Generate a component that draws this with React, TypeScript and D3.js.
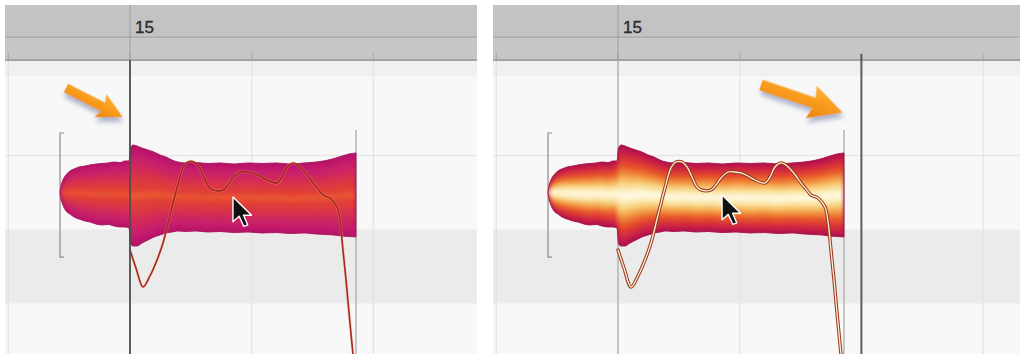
import React from 'react';
import * as d3 from 'd3';

const W = 1020;
const H = 354;

// ---- data (time in beats relative to bar 15, pitch in MIDI semitones) ----
const barLabel = '15';
const gridBeats = [-1, 0, 1, 2, 3];
const notePitch = 64;

const envTime = [
  -0.575, -0.567, -0.551, -0.526, -0.493, -0.46, -0.419, -0.37, -0.329, -0.279, -0.23, -0.181, -0.131, -0.082,
  -0.041, -0.008, 0.004, 0.025, 0.058, 0.099, 0.148, 0.197, 0.247, 0.296, 0.345, 0.394, 0.46, 0.542, 0.641,
  0.74, 0.855, 0.97, 1.085, 1.2, 1.315, 1.43, 1.528, 1.611, 1.676, 1.742, 1.799, 1.857,
];
const envTop = [
  64.007, 64.088, 64.169, 64.236, 64.291, 64.318, 64.345, 64.358, 64.372, 64.385, 64.392, 64.399, 64.412, 64.405,
  64.426, 64.426, 64.601, 64.642, 64.628, 64.601, 64.574, 64.547, 64.507, 64.48, 64.439, 64.412, 64.399, 64.405,
  64.392, 64.399, 64.385, 64.399, 64.392, 64.399, 64.385, 64.399, 64.412, 64.432, 64.459, 64.493, 64.52, 64.534,
];
const envBottom = [
  63.993, 63.912, 63.831, 63.75, 63.709, 63.669, 63.642, 63.615, 63.601, 63.574, 63.561, 63.568, 63.547, 63.534,
  63.534, 63.52, 63.304, 63.277, 63.277, 63.318, 63.358, 63.399, 63.426, 63.453, 63.466, 63.48, 63.473, 63.48,
  63.466, 63.473, 63.459, 63.466, 63.453, 63.459, 63.446, 63.453, 63.439, 63.432, 63.426, 63.412, 63.405, 63.399,
];

const pitchTime = [
  0.0, 0.049, 0.107, 0.164, 0.222, 0.271, 0.329, 0.386, 0.435, 0.476, 0.526, 0.567, 0.608, 0.649, 0.682, 0.764,
  0.805, 0.846, 0.904, 0.961, 1.011, 1.068, 1.126, 1.208, 1.249, 1.29, 1.339, 1.38, 1.422, 1.463, 1.504, 1.545,
  1.586, 1.643, 1.701, 1.726, 1.75, 1.775, 1.799, 1.832,
];
const pitchValue = [
  63.223, 62.98, 62.723, 62.872, 63.088, 63.318, 63.696, 64.061, 64.331, 64.412, 64.412, 64.345, 64.209, 64.074,
  64.034, 64.034, 64.101, 64.196, 64.277, 64.277, 64.264, 64.223, 64.169, 64.128, 64.209, 64.345, 64.399, 64.372,
  64.304, 64.223, 64.128, 64.047, 63.966, 63.926, 63.804, 63.601, 63.223, 62.818, 62.385, 61.818,
];

const bracketPitch = [63.128, 64.804];
const endLineTop = 64.845;

// annotations (beats, pitch)
const cursorPos = { before: [0.846, 63.94], after: [0.855, 63.966] };
const arrowPos = {
  before: { from: [-0.526, 65.412], to: [-0.06, 65.02] },
  after: { from: [1.175, 65.453], to: [1.845, 65.08] },
};

const beforeLayers: [number, string][] = [
  [1.0, '#ad1460'],
  [0.95, '#c21870'],
  [0.8, '#c92068'],
  [0.62, '#d22b58'],
  [0.45, '#da3547'],
  [0.28, '#e03c38'],
  [0.12, '#e44530'],
  [0.04, '#ec5e34'],
];
const afterLayers: [number, string][] = [
  [1.0, '#a8124a'],
  [0.94, '#c81c48'],
  [0.82, '#d83038'],
  [0.68, '#e6502c'],
  [0.54, '#ee7c34'],
  [0.42, '#f4aa50'],
  [0.3, '#f8d482'],
  [0.18, '#fcecb8'],
  [0.06, '#fffae6'],
];

const panels = [
  { id: 'before', left: 5, right: 477, origin: 130, playhead: 0 },
  { id: 'after', left: 493, right: 1020, origin: 618, playhead: 2 },
];

const BEAT_PX = 121.7;
const blackKeys = [1, 3, 6, 8, 10];

type Env = { t: number; top: number; bot: number };

function Arrow({ from, to, big }: { from: [number, number]; to: [number, number]; big: boolean }) {
  const dx = to[0] - from[0];
  const dy = to[1] - from[1];
  const L = Math.hypot(dx, dy);
  const ang = (Math.atan2(dy, dx) * 180) / Math.PI;
  const w = big ? 5.5 : 4.8;
  const h = big ? 30 : 22;
  const hw = big ? 17 : 13;
  const pts = [
    [0, -w],
    [L - h, -w],
    [L - h - 3, -hw],
    [L, 0],
    [L - h - 3, hw],
    [L - h, w],
    [0, w],
  ];
  return (
    <g transform={`translate(${from[0]},${from[1]}) rotate(${ang})`} filter="url(#arrowShadow)">
      <polygon points={pts.map((p) => p.join(',')).join(' ')} fill="url(#arrowGrad)" />
    </g>
  );
}

function Cursor({ x, y }: { x: number; y: number }) {
  const s = 1.55;
  return (
    <path
      transform={`translate(${x},${y}) scale(${s})`}
      d="M0,0 L0,16 L4,12.5 L7,19 L9.5,18 L6.8,11.8 L12,11.8 Z"
      fill="#111"
      stroke="#fff"
      strokeWidth={0.9}
      strokeLinejoin="round"
    />
  );
}

function Panel({ cfg, y }: { cfg: (typeof panels)[number]; y: d3.ScaleLinear<number, number> }) {
  const x = d3.scaleLinear().domain([0, 1]).range([cfg.origin, cfg.origin + BEAT_PX]);
  const variant = cfg.id;
  const clipId = `clip-${cfg.id}`;
  const blobClip = `blob-${cfg.id}`;
  const env: Env[] = envTime.map((t, i) => ({ t, top: envTop[i], bot: envBottom[i] }));
  const layers = variant === 'before' ? beforeLayers : afterLayers;
  const areaFor = (f: number) =>
    d3
      .area<Env>()
      .x((d) => x(d.t))
      .y0((d) => y((d.top + d.bot) / 2 - (f * (d.top - d.bot)) / 2))
      .y1((d) => y((d.top + d.bot) / 2 + (f * (d.top - d.bot)) / 2))
      .curve(d3.curveMonotoneX)(env) as string;
  const outer = areaFor(1);
  const pts = pitchTime.map((t, i) => ({ t, p: pitchValue[i] }));
  const linePath = d3
    .line<{ t: number; p: number }>()
    .x((d) => x(d.t))
    .y((d) => y(d.p))
    .curve(d3.curveCatmullRom.alpha(0.5))(pts) as string;

  const bodyTop = 60;
  const stripBottom = 76;
  const rows = d3.range(56, 70).filter((p) => blackKeys.includes(p % 12));
  const rowLines = d3.range(56, 70).filter((p) => !blackKeys.includes(p % 12) && !blackKeys.includes((p + 1) % 12));

  const cur = cursorPos[variant as 'before' | 'after'];
  const arr = arrowPos[variant as 'before' | 'after'];
  const tStart = envTime[0];
  const tEnd = envTime[envTime.length - 1];
  const bx = x(tStart);

  return (
    <g>
      <defs>
        <clipPath id={clipId}>
          <rect x={cfg.left} y={0} width={cfg.right - cfg.left} height={H} />
        </clipPath>
        <clipPath id={blobClip}>
          <path d={outer} />
        </clipPath>
      </defs>
      <g clipPath={`url(#${clipId})`}>
        {/* body */}
        <rect x={cfg.left} y={bodyTop} width={cfg.right - cfg.left} height={H - bodyTop} fill="#f8f8f8" />
        {rows.map((p) => {
          const y0 = Math.max(y(p + 0.5), stripBottom);
          const y1 = y(p - 0.5);
          if (y1 <= y0 || y(p + 0.5) < stripBottom) return null;
          return <rect key={p} x={cfg.left} y={y0} width={cfg.right - cfg.left} height={y1 - y0} fill="#ebebeb" />;
        })}
        {rowLines.map((p) => {
          const yy = y(p + 0.5);
          if (yy < stripBottom + 10 || yy > H) return null;
          return <line key={p} x1={cfg.left} x2={cfg.right} y1={yy} y2={yy} stroke="#e6e6e6" strokeWidth={1.5} />;
        })}
        <rect x={cfg.left} y={bodyTop} width={cfg.right - cfg.left} height={stripBottom - bodyTop} fill="#f0f0f0" />
        {gridBeats.map((b) => (
          <line key={b} x1={x(b)} x2={x(b)} y1={bodyTop} y2={H} stroke="#e3e3e3" strokeWidth={1.2} />
        ))}
        {/* header */}
        <rect x={cfg.left} y={5} width={cfg.right - cfg.left} height={32} fill="#c3c3c3" />
        <rect x={cfg.left} y={36.5} width={cfg.right - cfg.left} height={2} fill="#aaaaaa" />
        <rect x={cfg.left} y={38.5} width={cfg.right - cfg.left} height={20.5} fill="#c6c6c6" />
        <rect x={cfg.left} y={59} width={cfg.right - cfg.left} height={2} fill="#a2a2a2" />
        {gridBeats.map((b) => (
          <line key={b} x1={x(b)} x2={x(b)} y1={53} y2={59} stroke="#a6a6a6" strokeWidth={1} />
        ))}
        <line x1={x(0)} x2={x(0)} y1={5} y2={cfg.playhead === 0 ? 60 : H} stroke="#9c9c9c" strokeWidth={1} />
        <text
          x={x(0) + 5}
          y={33}
          fontFamily="'Liberation Sans', Arial, sans-serif"
          fontSize={17}
          fill="#2b2b2b"
          stroke="#2b2b2b"
          strokeWidth={0.35}
        >
          {barLabel}
        </text>

        {/* note start bracket and end line */}
        <path
          d={`M${bx + 4},${y(bracketPitch[1])} H${bx} V${y(bracketPitch[0])} H${bx + 4}`}
          fill="none"
          stroke="#8c8c8c"
          strokeWidth={1.2}
        />
        <line x1={x(tEnd)} x2={x(tEnd)} y1={y(endLineTop)} y2={H} stroke="#a4a4a4" strokeWidth={1.2} />

        {/* blob */}
        <path d={outer} fill={layers[0][1]} />
        <g clipPath={`url(#${blobClip})`}>
          <g filter="url(#softBlur)">
            {layers.slice(1).map(([f, c]) => (
              <path key={f} d={areaFor(f)} fill={c} />
            ))}
          </g>
        </g>
        <path d={outer} fill="none" stroke={layers[0][1]} strokeWidth={1} strokeOpacity={0.9} />

        {/* pitch curve */}
        {variant === 'before' ? (
          <g fill="none" strokeLinejoin="round" strokeLinecap="round">
            <path d={linePath} stroke="#f2ad92" strokeWidth={3} strokeOpacity={0.35} />
            <path d={linePath} stroke="#a8261a" strokeWidth={1.6} />
          </g>
        ) : (
          <g fill="none" strokeLinejoin="round" strokeLinecap="round">
            <path d={linePath} stroke="#9a3a1e" strokeWidth={3.4} />
            <path d={linePath} stroke="#fff0d6" strokeWidth={1.3} />
          </g>
        )}

        {/* playhead */}
        <line
          x1={x(cfg.playhead)}
          x2={x(cfg.playhead)}
          y1={cfg.playhead === 0 ? 60 : 54}
          y2={H}
          stroke="#4e4e4e"
          strokeWidth={2}
          strokeOpacity={0.9}
        />

        <Arrow from={[x(arr.from[0]), y(arr.from[1])]} to={[x(arr.to[0]), y(arr.to[1])]} big={variant === 'after'} />
        <Cursor x={x(cur[0])} y={y(cur[1])} />
      </g>
    </g>
  );
}

export default function App() {
  const y = d3
    .scaleLinear()
    .domain([notePitch - 1, notePitch])
    .range([266.5, 192.5]);
  return (
    <svg width={W} height={H} style={{ position: 'absolute', left: 0, top: 0, display: 'block' }}>
      <defs>
        <filter id="softBlur" x="-5%" y="-20%" width="110%" height="140%">
          <feGaussianBlur stdDeviation="2.2" />
        </filter>
        <filter id="arrowShadow" x="-30%" y="-60%" width="160%" height="220%">
          <feDropShadow dx="2.5" dy="4" stdDeviation="2.5" floodColor="#6a78a0" floodOpacity="0.55" />
        </filter>
        <linearGradient id="arrowGrad" x1="0" y1="0" x2="0" y2="1">
          <stop offset="0" stopColor="#ffb030" />
          <stop offset="0.5" stopColor="#f89a1c" />
          <stop offset="1" stopColor="#ec860c" />
        </linearGradient>
      </defs>
      <rect width={W} height={H} fill="#ffffff" />
      {panels.map((p) => (
        <Panel key={p.id} cfg={p} y={y} />
      ))}
    </svg>
  );
}
